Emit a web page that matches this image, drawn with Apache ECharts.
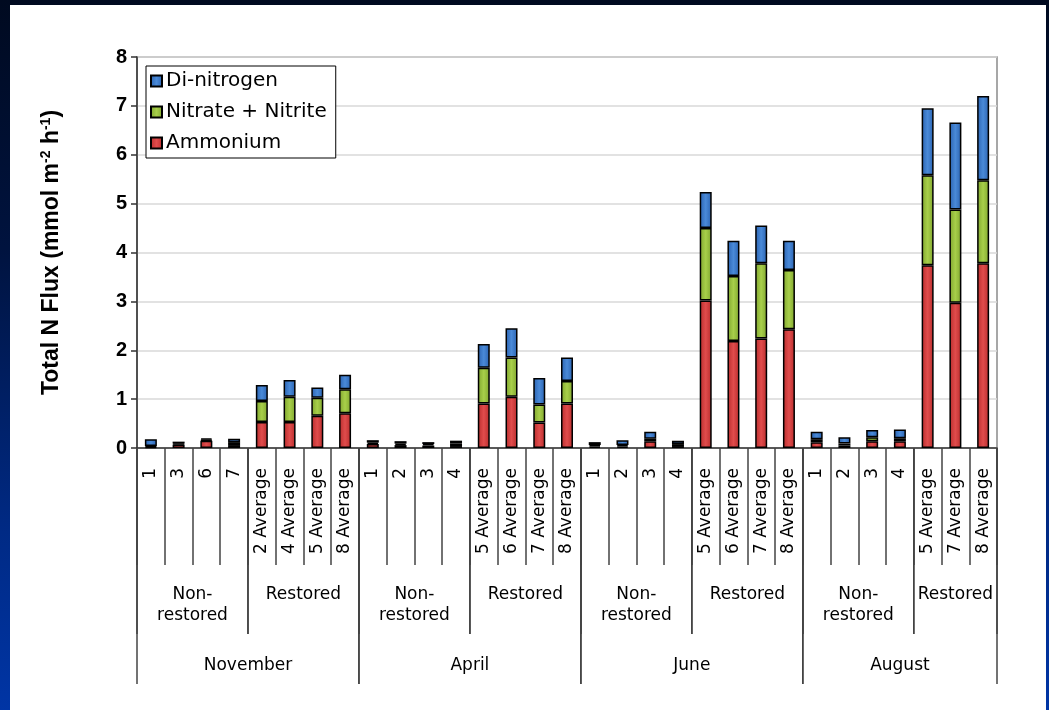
<!DOCTYPE html>
<html>
<head>
<meta charset="utf-8">
<script src="https://cdn.jsdelivr.net/npm/echarts@6/dist/echarts.min.js"></script>
<style>
  html, body { margin:0; padding:0; width:1049px; height:710px; overflow:hidden;
    background: linear-gradient(to bottom, #000a20 0%, #00133f 35%, #002a85 75%, #0035a5 100%); }
  #panel { position:absolute; left:10px; top:5px; width:1036px; height:705px; background:#fff; }
  #chart { position:absolute; left:0; top:0; width:1049px; height:710px; }
</style>
</head>
<body>
<div id="panel"></div>
<div id="chart"></div>
<script>
const categories = ['1','3','6','7','2 Average','4 Average','5 Average','8 Average',
  '1','2','3','4','5 Average','6 Average','7 Average','8 Average',
  '1','2','3','4','5 Average','6 Average','7 Average','8 Average',
  '1','2','3','4','5 Average','7 Average','8 Average'];
const ammonium = [0.02,0.07,0.15,0.06,0.53,0.53,0.66,0.71,
  0.08,0.06,0.05,0.04,0.91,1.05,0.52,0.91,
  0.03,0.03,0.14,0.04,3.02,2.19,2.24,2.43,
  0.12,0.05,0.14,0.14,3.74,2.97,3.78];
const nitrate = [0.02,0.02,0.02,0.06,0.43,0.52,0.37,0.49,
  0.03,0.03,0.03,0.05,0.73,0.80,0.37,0.46,
  0.03,0.03,0.05,0.04,1.48,1.33,1.54,1.21,
  0.06,0.04,0.08,0.06,1.84,1.91,1.70];
const dinitrogen = [0.14,0.04,0.03,0.07,0.33,0.34,0.21,0.30,
  0.05,0.05,0.04,0.06,0.49,0.60,0.54,0.48,
  0.06,0.10,0.14,0.07,0.74,0.72,0.77,0.60,
  0.15,0.13,0.15,0.18,1.37,1.78,1.72];
const groupLabels = ['Non-\nrestored','Restored','Non-\nrestored','Restored','Non-\nrestored','Restored','Non-\nrestored','Restored'];
const groupSizes = [4,4,4,4,4,4,4,3];
const monthLabels = ['November','April','June','August'];
const monthSizes = [8,8,8,7];
const yTicks = [0,1,2,3,4,5,6,7,8];

const FONT = '"DejaVu Sans", sans-serif';
const FONT_B = 'Arial, "Liberation Sans", sans-serif';

function spans(sizes){ const out=[]; let s=0; sizes.forEach(n=>{ out.push([s, s+n]); s+=n; }); return out; }
const groupSpans = spans(groupSizes);
const monthSpans = spans(monthSizes);
const decoData = groupSpans.map((g,i)=>[g[0], g[1], 0, 1, i]).concat(monthSpans.map((m,i)=>[m[0], m[1], 0, 2, i]));

function grad(edge, mid){
  return new echarts.graphic.LinearGradient(0,0,1,0,[
    {offset:0,color:edge},{offset:0.5,color:mid},{offset:1,color:edge}]);
}
const barBase = { type:'bar', stack:'total', barWidth:12 };

const chart = echarts.init(document.getElementById('chart'), null, {renderer:'canvas'});
chart.setOption({
  animation:false,
  textStyle:{ fontFamily: FONT },
  grid:{ left:137, top:57, right:52, bottom:262, show:true, borderColor:'#8a8a8a', borderWidth:1.5, backgroundColor:'transparent' },
  legend:{
    data:['Di-nitrogen','Nitrate + Nitrite','Ammonium'],
    orient:'vertical', left:146, top:66,
    backgroundColor:'#fff', borderColor:'#000', borderWidth:1,
    padding:[4,9,4,4], itemWidth:11, itemHeight:11, itemGap:9,
    icon:'rect',
    textStyle:{ fontSize:20, color:'#000', fontFamily:FONT, lineHeight:22, padding:[0,0,0,-1] }
  },
  xAxis:{
    type:'category', data:categories,
    axisLine:{ lineStyle:{ color:'#333', width:1.5 } },
    axisTick:{ show:true, interval:0, length:117, lineStyle:{ color:'#444', width:1.5 } },
    axisLabel:{ interval:0, rotate:90, margin:20, fontSize:17, color:'#000', fontFamily:FONT },
    splitLine:{ show:false }
  },
  yAxis:{
    type:'value', min:0, max:8, interval:1,
    name:'{a|Total N Flux (mmol m}{s|-2}{a| h}{s|-1}{a|)}',
    nameLocation:'middle', nameGap:73, nameRotate:90,
    nameTextStyle:{ rich:{
      a:{ fontSize:23, fontWeight:'bold', color:'#000', fontFamily:FONT_B },
      s:{ fontSize:14, fontWeight:'bold', color:'#000', fontFamily:FONT_B, verticalAlign:'top', padding:[0,0,11,0] }
    }},
    axisLine:{ show:true, lineStyle:{ color:'#333', width:1.5 } },
    axisTick:{ show:true, length:6, inside:false, lineStyle:{ color:'#333', width:1.5 } },
    axisLabel:{ fontSize:20, fontWeight:'bold', color:'#000', margin:10, fontFamily:FONT_B,
      formatter: v => yTicks.indexOf(v) >= 0 ? String(v) : '' },
    splitLine:{ show:true, lineStyle:{ color:'#d9d9d9', width:1.5 } }
  },
  series:[
    Object.assign({}, barBase, { name:'Ammonium', data:ammonium,
      itemStyle:{ color:grad('#b82c2c','#e04c4c'), borderColor:'#000', borderWidth:1.5 } }),
    Object.assign({}, barBase, { name:'Nitrate + Nitrite', data:nitrate,
      itemStyle:{ color:grad('#7fa52e','#a8cf4a'), borderColor:'#000', borderWidth:1.5 } }),
    Object.assign({}, barBase, { name:'Di-nitrogen', data:dinitrogen,
      itemStyle:{ color:grad('#2a62b0','#4a8ad8'), borderColor:'#000', borderWidth:1.5 } }),
    {
      type:'custom', silent:true, clip:false, data:decoData,
      encode:{ x:0, y:2 },
      renderItem:function(params, api){
        const s = api.value(0), e = api.value(1), lvl = api.value(3), idx = api.value(4);
        const bw = api.size([1,0])[0];
        const x0 = api.coord([s,0])[0] - bw/2;
        const x1 = api.coord([e-1,0])[0] + bw/2;
        const y0 = api.coord([0,0])[1];
        const lineEnd = lvl === 1 ? y0 + 186 : y0 + 236;
        const textY = lvl === 1 ? y0 + 136 : y0 + 207;
        const label = lvl === 1 ? groupLabels[idx] : monthLabels[idx];
        const ls = { stroke:'#444', lineWidth:1.5 };
        return { type:'group', children:[
          { type:'line', shape:{ x1:x0, y1:y0, x2:x0, y2:lineEnd }, style:ls },
          { type:'line', shape:{ x1:x1, y1:y0, x2:x1, y2:lineEnd }, style:ls },
          { type:'text', x:(x0+x1)/2, y:textY, style:{ text:label, fill:'#000', font:'17px ' + FONT,
              align:'center', verticalAlign:'top', lineHeight:21 } }
        ]};
      }
    }
  ]
});
</script>
</body>
</html>
